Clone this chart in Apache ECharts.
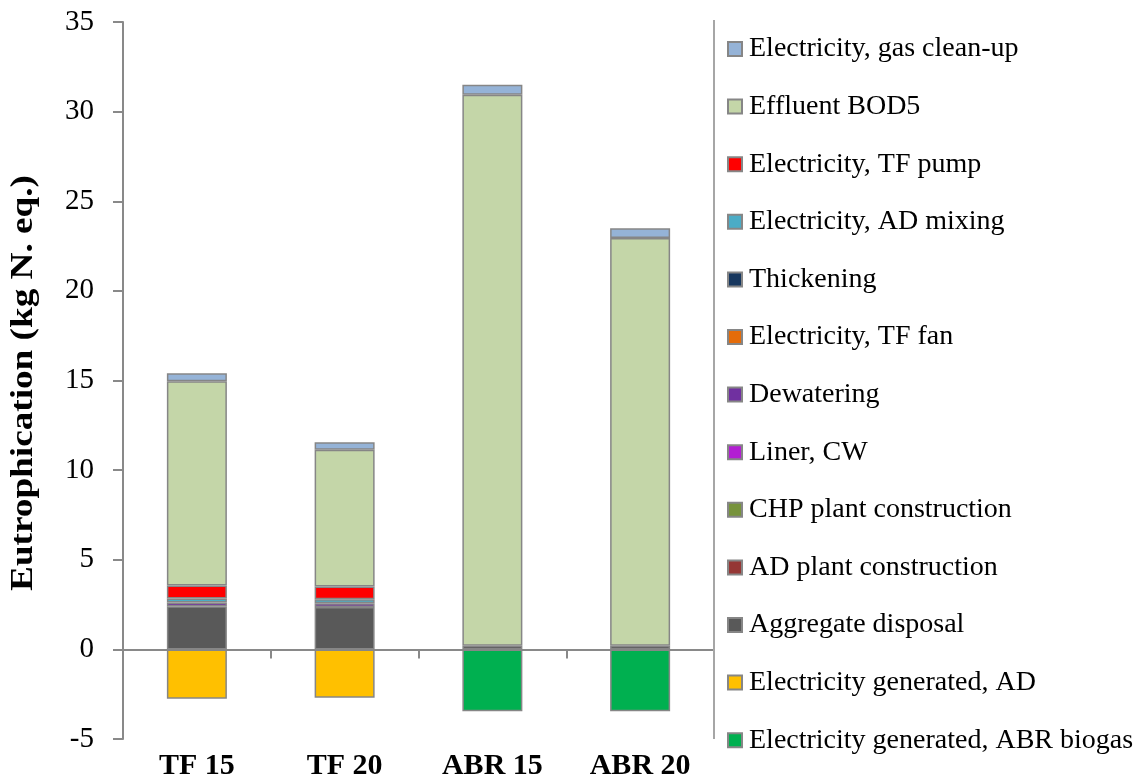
<!DOCTYPE html>
<html>
<head>
<meta charset="utf-8">
<script src="https://cdn.jsdelivr.net/npm/echarts@6/dist/echarts.min.js"></script>
<style>html,body{margin:0;padding:0;background:#fff}#c{width:1136px;height:782px}</style>
</head>
<body>
<div id="c"></div>
<script>
const categories = ['TF 15', 'TF 20', 'ABR 15', 'ABR 20'];
const yTicks = { min: -5, max: 35, interval: 5 };
const yAxisTitle = 'Eutrophication (kg N. eq.)';

// stacked bottom-to-top
const aggregateDisposal   = [2.40, 2.36, 0.20, 0.20];
const adPlantConstruction = [null, null, null, null];
const chpPlantConstruction= [null, null, null, null];
const linerCW             = [null, null, null, null];
const dewatering          = [0.22, 0.22, null, null];
const elecTFfan           = [null, null, null, null];
const thickening          = [null, null, null, null];
const elecADmixing        = [0.22, 0.22, null, null];
const elecTFpump          = [0.73, 0.71, null, null];
const effluentBOD5        = [11.39, 7.63, 30.74, 22.75];
const elecGasCleanup      = [0.45, 0.42, 0.56, 0.55];
const elecGenAD           = [-2.75, -2.70, null, null];
const elecGenABR          = [null, null, -3.45, -3.45];

const seriesDefs = [
  ['Aggregate disposal', aggregateDisposal, '#595959'],
  ['AD plant construction', adPlantConstruction, '#953735'],
  ['CHP plant construction', chpPlantConstruction, '#77933C'],
  ['Liner, CW', linerCW, '#B21FD2'],
  ['Dewatering', dewatering, '#7030A0'],
  ['Electricity, TF fan', elecTFfan, '#E46C0A'],
  ['Thickening', thickening, '#17375E'],
  ['Electricity, AD mixing', elecADmixing, '#4BACC6'],
  ['Electricity, TF pump', elecTFpump, '#FF0000'],
  ['Effluent BOD5', effluentBOD5, '#C4D6A8'],
  ['Electricity, gas clean-up', elecGasCleanup, '#95B3D7'],
  ['Electricity generated, AD', elecGenAD, '#FFC000'],
  ['Electricity generated, ABR biogas', elecGenABR, '#00B050']
];
const legendOrder = [
  'Electricity, gas clean-up', 'Effluent BOD5', 'Electricity, TF pump', 'Electricity, AD mixing',
  'Thickening', 'Electricity, TF fan', 'Dewatering', 'Liner, CW', 'CHP plant construction',
  'AD plant construction', 'Aggregate disposal', 'Electricity generated, AD',
  'Electricity generated, ABR biogas'
];

const FONT = 'Liberation Serif';
const chart = echarts.init(document.getElementById('c'), null, { renderer: 'canvas' });
chart.setOption({
  animation: false,
  backgroundColor: '#fff',
  textStyle: { fontFamily: FONT, color: '#000' },
  grid: { left: 123, right: 422, top: 22, bottom: 43, containLabel: false, outerBoundsMode: 'none' },
  legend: {
    orient: 'vertical', left: 722, top: 30,
    data: legendOrder,
    itemWidth: 14, itemHeight: 14, itemGap: 29.6,
    icon: 'rect',
    textStyle: { fontFamily: FONT, fontSize: 28, color: '#000', lineHeight: 28, padding: [0, 0, 0, 2] },
    selectedMode: false
  },
  xAxis: [
    {
      type: 'category', data: categories, position: 'bottom',
      axisLine: { show: false, onZero: false }, axisTick: { show: false },
      axisLabel: { fontFamily: FONT, fontSize: 30, fontWeight: 'bold', color: '#000', margin: 12 }
    },
    {
      type: 'category', data: categories, position: 'bottom',
      axisLine: { show: true, onZero: true, lineStyle: { color: '#898989', width: 2 } },
      axisTick: { show: true, length: 9, inside: false, lineStyle: { color: '#898989', width: 2 } },
      axisLabel: { show: false }
    }
  ],
  yAxis: {
    type: 'value', min: yTicks.min, max: yTicks.max, interval: yTicks.interval,
    axisLine: { show: true, lineStyle: { color: '#898989', width: 2 } },
    axisTick: { show: true, length: 10, lineStyle: { color: '#898989', width: 2 } },
    axisLabel: { fontFamily: FONT, fontSize: 29, color: '#000', margin: 29 },
    splitLine: { show: false }
  },
  graphic: [
    { type: 'line', shape: { x1: 714, y1: 20, x2: 714, y2: 739 }, style: { stroke: '#A6A6A6', lineWidth: 2 }, z: 10 },
    {
      type: 'text', x: 24, y: 383, rotation: Math.PI / 2, scaleX: 1.2, scaleY: 1,
      style: { text: yAxisTitle, font: 'bold 31px "Liberation Serif"', fill: '#000', align: 'center', verticalAlign: 'middle' }
    }
  ],
  series: seriesDefs.map(([name, data, color]) => ({
    name, type: 'bar', stack: 'total', data, barWidth: 60, xAxisIndex: 0,
    itemStyle: { color, borderColor: '#868686', borderWidth: 1.5 }
  }))
});
</script>
</body>
</html>
